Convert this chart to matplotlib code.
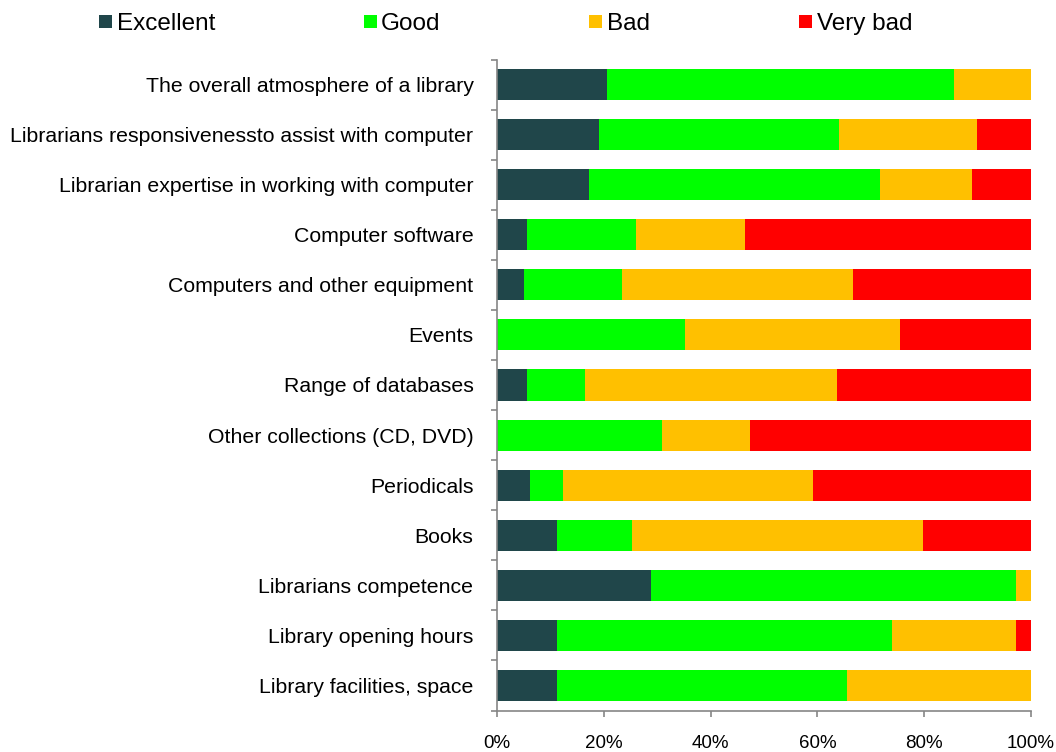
import matplotlib
matplotlib.use("Agg")
import matplotlib.pyplot as plt
from matplotlib.patches import Rectangle
from matplotlib.ticker import MultipleLocator, FixedLocator, PercentFormatter

plt.rcParams['font.family'] = ['Liberation Sans', 'DejaVu Sans']

categories = [
    "The overall atmosphere of a library",
    "Librarians responsivenessto assist with computer",
    "Librarian expertise in working with computer",
    "Computer software",
    "Computers and other equipment",
    "Events",
    "Range of databases",
    "Other collections (CD, DVD)",
    "Periodicals",
    "Books",
    "Librarians competence",
    "Library opening hours",
    "Library facilities, space",
]
series = ["Excellent", "Good", "Bad", "Very bad"]
excellent = [20.6, 19.1, 17.2, 5.6, 5.1, 0.0, 5.6, 0.0, 6.2, 11.2, 28.8, 11.2, 11.2]
good      = [65.0, 44.9, 54.5, 20.4, 18.3, 35.2, 10.9, 30.9, 6.2, 14.1, 68.4, 62.8, 54.3]
bad       = [14.4, 25.9, 17.3, 20.4, 43.3, 40.3, 47.2, 16.5, 46.8, 54.5, 2.8, 23.2, 34.5]
very_bad  = [0.0, 10.1, 11.0, 53.6, 33.3, 24.5, 36.3, 52.6, 40.8, 20.2, 0.0, 2.8, 0.0]
colors = ["#20464A", "#00FF00", "#FFC000", "#FF0000"]

W, H = 1056, 752
fig = plt.figure(figsize=(W/100, H/100), dpi=100)
ax = fig.add_axes([497/W, 1-710.5/H, (1031-497)/W, 651/H])

ypos = list(range(len(categories)))
left = [0.0]*len(categories)
for name, vals, c in zip(series, [excellent, good, bad, very_bad], colors):
    ax.barh(ypos, vals, left=left, height=0.62, color=c, linewidth=0)
    left = [l + v for l, v in zip(left, vals)]

ax.set_xlim(0, 100)
ax.set_ylim(len(categories)-0.5, -0.5)
ax.set_yticks(ypos)
ax.set_yticklabels(categories, fontsize=15.3)
ax.yaxis.set_minor_locator(FixedLocator([i-0.5 for i in range(len(categories)+1)]))
ax.tick_params(axis='y', which='major', length=0, pad=17)
ax.tick_params(axis='y', which='minor', length=4, color='#868686', width=1.2)
ax.xaxis.set_major_locator(MultipleLocator(20))
ax.xaxis.set_major_formatter(PercentFormatter(decimals=0))
ax.tick_params(axis='x', which='major', length=4, color='#868686', width=1.2, labelsize=13.5, pad=14)
for s in ['top', 'right']:
    ax.spines[s].set_visible(False)
for s in ['left', 'bottom']:
    ax.spines[s].set_color('#868686')
    ax.spines[s].set_linewidth(1.2)

# legend (manual, top row)
marker_x = [99, 364, 589, 799]
text_x = [117, 381, 607, 817]
for name, c, mx, tx in zip(series, colors, marker_x, text_x):
    fig.patches.append(Rectangle((mx/W, 1-28/H), 13/W, 13/H, transform=fig.transFigure,
                                 facecolor=c, edgecolor='none'))
    fig.text(tx/W, 1-30/H, name, fontsize=17.5, ha='left', va='baseline')

fig.savefig("out.png", dpi=100)
